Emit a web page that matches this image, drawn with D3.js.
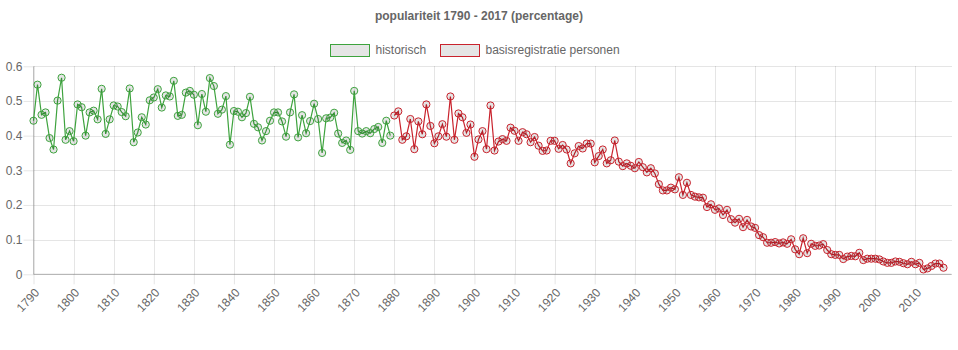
<!DOCTYPE html>
<html>
<head>
<meta charset="utf-8">
<script src="https://cdn.jsdelivr.net/npm/d3@7"></script>
<style>
  html, body { margin: 0; padding: 0; background: #fff; }
  svg { display: block; font-family: "Liberation Sans", Arial, Helvetica, sans-serif; }
</style>
</head>
<body>
<svg id="chart" width="958" height="350"></svg>
<script>
// ---- data ----
const titleText = "popularit" + "eit 1790 - 2017 (percentage)";
const seriesNames = ["historisch", "basisregistratie personen"];
const historischStart = 1790;
const historisch = [
  0.443,0.547,0.460,0.467,0.393,0.360,0.501,0.567,0.388,0.413,
  0.384,0.490,0.482,0.400,0.467,0.472,0.447,0.535,0.405,0.447,
  0.487,0.484,0.468,0.456,0.536,0.381,0.409,0.453,0.432,0.502,
  0.510,0.534,0.481,0.516,0.513,0.558,0.457,0.460,0.524,0.529,
  0.518,0.430,0.520,0.469,0.566,0.543,0.463,0.475,0.514,0.374,
  0.471,0.469,0.453,0.465,0.512,0.434,0.424,0.386,0.413,0.443,
  0.467,0.467,0.441,0.397,0.467,0.519,0.395,0.459,0.407,0.442,
  0.492,0.448,0.350,0.450,0.452,0.466,0.406,0.379,0.386,0.359,
  0.529,0.413,0.406,0.413,0.407,0.419,0.425,0.379,0.443,0.400
];
const basisStart = 1880;
const basis = [
  0.458,0.470,0.388,0.398,0.448,0.361,0.441,0.404,0.490,0.428,
  0.378,0.398,0.433,0.397,0.513,0.388,0.464,0.453,0.408,0.432,
  0.339,0.389,0.413,0.361,0.487,0.357,0.383,0.390,0.385,0.423,
  0.414,0.385,0.410,0.404,0.381,0.396,0.371,0.356,0.357,0.385,
  0.385,0.362,0.373,0.360,0.320,0.349,0.370,0.363,0.377,0.377,
  0.323,0.341,0.360,0.320,0.329,0.386,0.325,0.312,0.320,0.313,
  0.306,0.324,0.309,0.294,0.306,0.291,0.260,0.242,0.242,0.250,
  0.245,0.280,0.229,0.264,0.229,0.224,0.222,0.221,0.194,0.202,
  0.186,0.190,0.171,0.186,0.159,0.149,0.160,0.136,0.157,0.138,
  0.134,0.113,0.107,0.091,0.091,0.093,0.089,0.092,0.088,0.101,
  0.072,0.058,0.104,0.061,0.088,0.082,0.083,0.087,0.070,0.058,
  0.056,0.056,0.044,0.051,0.053,0.052,0.062,0.041,0.045,0.045,
  0.045,0.043,0.037,0.033,0.033,0.037,0.036,0.032,0.029,0.036,
  0.029,0.033,0.014,0.017,0.024,0.031,0.031,0.019
];
const xTickYears = [1790,1800,1810,1820,1830,1840,1850,1860,1870,1880,1890,1900,1910,1920,1930,1940,1950,1960,1970,1980,1990,2000,2010];
const yTickValues = [0, 0.1, 0.2, 0.3, 0.4, 0.5, 0.6];
const colors = ["#3ea33e", "#c9232d"];

// ---- layout ----
const svg = d3.select("#chart");
const pLeft = 33.5, pRight = 951.5, pTop = 66.3, pBottom = 274.3;
const x = d3.scaleLinear().domain([1790, 2019]).range([pLeft, pRight]);
const y = d3.scaleLinear().domain([0, 0.6]).range([pBottom, pTop]);

const datasets = [
  historisch.map((v, i) => ({ year: historischStart + i, value: v })),
  basis.map((v, i) => ({ year: basisStart + i, value: v }))
];

// grid lines
const gridY = svg.append("g").attr("transform", `translate(${pLeft},0)`)
  .call(d3.axisLeft(y).tickValues(yTickValues).tickSize(-(pRight - pLeft)).tickFormat(""));
gridY.select(".domain").remove();
gridY.selectAll("line").attr("stroke", "rgba(0,0,0,0.1)").attr("shape-rendering", "crispEdges");

const gridX = svg.append("g").attr("transform", `translate(0,${pTop})`)
  .call(d3.axisBottom(x).tickValues(xTickYears).tickSize(pBottom - pTop).tickFormat(""));
gridX.select(".domain").remove();
gridX.selectAll("line").attr("stroke", "rgba(0,0,0,0.1)").attr("shape-rendering", "crispEdges");

// y axis with tick marks & labels
const yAxis = svg.append("g").attr("transform", `translate(${pLeft},0)`)
  .call(d3.axisLeft(y).tickValues(yTickValues).tickSize(10).tickPadding(1)
    .tickFormat(d => d === 0 ? "0" : d3.format(".1f")(d)));
yAxis.select(".domain").attr("stroke", "rgba(0,0,0,0.25)").attr("d", `M0,${pTop}V${pBottom}`);
yAxis.selectAll("line").attr("stroke", "rgba(0,0,0,0.1)");
yAxis.selectAll("text").attr("fill", "#666").style("font-size", "12px")
  .style("font-family", "'Liberation Sans', Arial, sans-serif");

// x axis
const xAxis = svg.append("g").attr("transform", `translate(0,${pBottom})`)
  .call(d3.axisBottom(x).tickValues(xTickYears).tickSize(10).tickFormat(d => String(d)));
xAxis.select(".domain").attr("stroke", "rgba(0,0,0,0.25)").attr("d", `M${pLeft},0H${pRight}`);
xAxis.selectAll("line").attr("stroke", "rgba(0,0,0,0.1)");
xAxis.selectAll("text")
  .attr("fill", "#666").style("font-size", "12px")
  .style("font-family", "'Liberation Sans', Arial, sans-serif")
  .attr("text-anchor", "end")
  .attr("dy", "0.35em")
  .attr("y", 0)
  .attr("transform", "translate(3,16) rotate(-47)");

// lines & points
const line = d3.line().x(d => x(d.year)).y(d => y(d.value));
datasets.forEach((ds, i) => {
  svg.append("path").datum(ds)
    .attr("fill", "none").attr("stroke", colors[i]).attr("stroke-width", 1.2)
    .attr("d", line);
  svg.append("g").selectAll("circle").data(ds).join("circle")
    .attr("cx", d => x(d.year)).attr("cy", d => y(d.value)).attr("r", 3.6)
    .attr("fill", "rgba(0,0,0,0.1)").attr("stroke", colors[i]).attr("stroke-width", 1);
});

// title
svg.append("text").attr("x", 479).attr("y", 17).attr("text-anchor", "middle")
  .attr("dominant-baseline", "middle")
  .attr("fill", "#666").style("font-size", "12px").style("font-weight", "bold")
  .text(titleText);

// legend
const legendItems = [
  { name: seriesNames[0], color: colors[0], bx: 330, tx: 375.5 },
  { name: seriesNames[1], color: colors[1], bx: 440, tx: 485.5 }
];
const lg = svg.append("g");
legendItems.forEach(it => {
  lg.append("rect").attr("x", it.bx + 0.5).attr("y", 44.5).attr("width", 39).attr("height", 12)
    .attr("fill", "rgba(0,0,0,0.1)").attr("stroke", it.color).attr("stroke-width", 1);
  lg.append("text").attr("x", it.tx).attr("y", 50.5).attr("dominant-baseline", "middle")
    .attr("fill", "#666").style("font-size", "12px").text(it.name);
});
</script>
</body>
</html>
